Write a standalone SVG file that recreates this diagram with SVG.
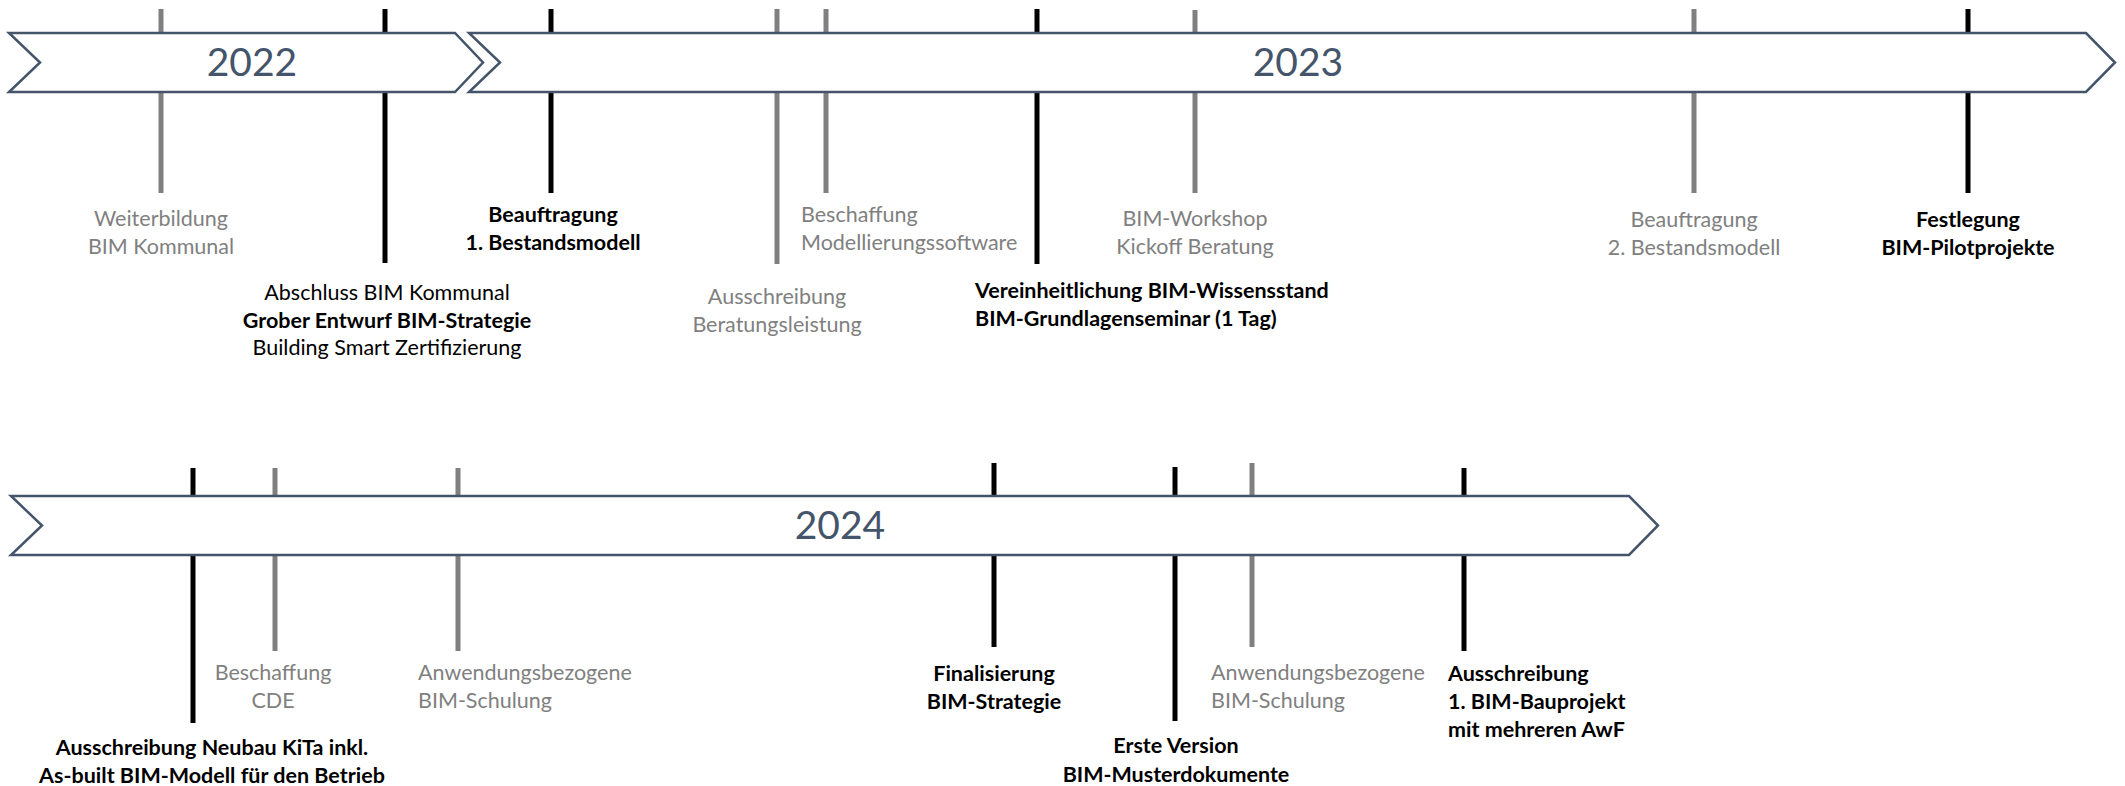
<svg xmlns="http://www.w3.org/2000/svg" width="2125" height="786" viewBox="0 0 2125 786">
<style>
.bg{fill:#ffffff}
.tk{stroke-width:5;fill:none}
.tb{stroke:#000000}
.tg{stroke:#808080}
.arr{fill:#ffffff;stroke:#44546a;stroke-width:2.5;stroke-linejoin:miter}
.yr{font-family:Lato,"Open Sans",sans-serif;font-size:39px;fill:#44546a;text-anchor:middle}
.t{font-family:Lato,"Open Sans",sans-serif;font-size:21.5px}
.g{fill:#808080}
.k{fill:#000000}
.b{font-weight:bold}
.c{text-anchor:middle}
.l{text-anchor:start}
</style>
<rect class="bg" x="0" y="0" width="2125" height="786"/>

<g id="ticks-row1">
<g id="n-weiterbildung">
<line class="tk tg" x1="161" y1="9" x2="161" y2="193"/>
<text class="t g c" x="161" y="226">Weiterbildung</text>
<text class="t g c" x="161" y="254">BIM Kommunal</text>
</g>
<g id="n-abschluss">
<line class="tk tb" x1="385" y1="9" x2="385" y2="263"/>
<text class="t k c" x="387" y="300">Abschluss BIM Kommunal</text>
<text class="t k c b" x="387" y="328">Grober Entwurf BIM-Strategie</text>
<text class="t k c" x="387" y="355">Building Smart Zertifizierung</text>
</g>
<g id="n-beauftragung1">
<line class="tk tb" x1="551" y1="9" x2="551" y2="193"/>
<text class="t k c b" x="553" y="222">Beauftragung</text>
<text class="t k c b" x="553" y="250">1. Bestandsmodell</text>
</g>
<g id="n-ausschreibung-beratung">
<line class="tk tg" x1="777" y1="9" x2="777" y2="264"/>
<text class="t g c" x="777" y="304">Ausschreibung</text>
<text class="t g c" x="777" y="332">Beratungsleistung</text>
</g>
<g id="n-beschaffung-software">
<line class="tk tg" x1="826" y1="9" x2="826" y2="193"/>
<text class="t g l" x="801" y="222">Beschaffung</text>
<text class="t g l" x="801" y="250">Modellierungssoftware</text>
</g>
<g id="n-vereinheitlichung">
<line class="tk tb" x1="1037" y1="9" x2="1037" y2="264"/>
<text class="t k l b" x="975" y="298">Vereinheitlichung BIM-Wissensstand</text>
<text class="t k l b" x="975" y="326">BIM-Grundlagenseminar (1 Tag)</text>
</g>
<g id="n-workshop">
<line class="tk tg" x1="1195" y1="10" x2="1195" y2="193"/>
<text class="t g c" x="1195" y="226">BIM-Workshop</text>
<text class="t g c" x="1195" y="254">Kickoff Beratung</text>
</g>
<g id="n-beauftragung2">
<line class="tk tg" x1="1694" y1="9" x2="1694" y2="193"/>
<text class="t g c" x="1694" y="227">Beauftragung</text>
<text class="t g c" x="1694" y="255">2. Bestandsmodell</text>
</g>
<g id="n-festlegung">
<line class="tk tb" x1="1968" y1="9" x2="1968" y2="193"/>
<text class="t k c b" x="1968" y="227">Festlegung</text>
<text class="t k c b" x="1968" y="255">BIM-Pilotprojekte</text>
</g>
</g>

<g id="ticks-row2">
<g id="n-kita">
<line class="tk tb" x1="193" y1="468" x2="193" y2="723"/>
<text class="t k c b" x="212" y="755">Ausschreibung Neubau KiTa inkl.</text>
<text class="t k c b" x="212" y="783">As-built BIM-Modell für den Betrieb</text>
</g>
<g id="n-cde">
<line class="tk tg" x1="275" y1="468" x2="275" y2="651"/>
<text class="t g c" x="273" y="680">Beschaffung</text>
<text class="t g c" x="273" y="708">CDE</text>
</g>
<g id="n-schulung1">
<line class="tk tg" x1="458" y1="468" x2="458" y2="651"/>
<text class="t g l" x="418" y="680">Anwendungsbezogene</text>
<text class="t g l" x="418" y="708">BIM-Schulung</text>
</g>
<g id="n-finalisierung">
<line class="tk tb" x1="994" y1="463" x2="994" y2="647"/>
<text class="t k c b" x="994" y="681">Finalisierung</text>
<text class="t k c b" x="994" y="709">BIM-Strategie</text>
</g>
<g id="n-musterdokumente">
<line class="tk tb" x1="1175" y1="467" x2="1175" y2="721"/>
<text class="t k c b" x="1176" y="753">Erste Version</text>
<text class="t k c b" x="1176" y="782">BIM-Musterdokumente</text>
</g>
<g id="n-schulung2">
<line class="tk tg" x1="1252" y1="463" x2="1252" y2="647"/>
<text class="t g l" x="1211" y="680">Anwendungsbezogene</text>
<text class="t g l" x="1211" y="708">BIM-Schulung</text>
</g>
<g id="n-bauprojekt">
<line class="tk tb" x1="1464" y1="468" x2="1464" y2="651"/>
<text class="t k l b" x="1448" y="681">Ausschreibung</text>
<text class="t k l b" x="1448" y="709">1. BIM-Bauprojekt</text>
<text class="t k l b" x="1448" y="737">mit mehreren AwF</text>
</g>
</g>

<g id="connectors">
<g id="year-2022">
<polygon class="arr" points="9,33 455,33 483,62.5 455,92 9,92 40,62.5"/>
<text class="yr" x="252" y="76">2022</text>
</g>
<g id="year-2023">
<polygon class="arr" points="469,33 2086,33 2115,62.5 2086,92 469,92 500,62.5"/>
<text class="yr" x="1298" y="76">2023</text>
</g>
<g id="year-2024">
<polygon class="arr" points="11,496 1629,496 1658,525.5 1629,555 11,555 42,525.5"/>
<text class="yr" x="840" y="539">2024</text>
</g>
</g>
</svg>
